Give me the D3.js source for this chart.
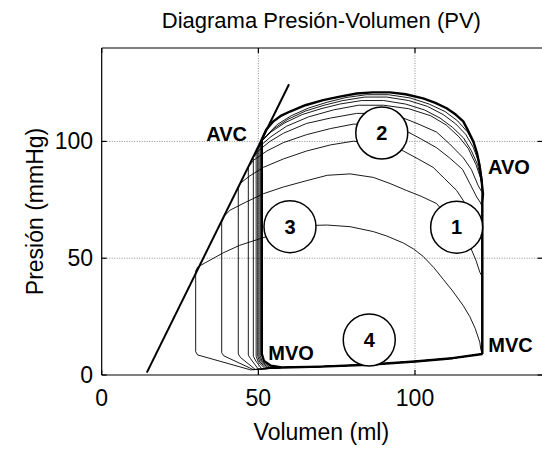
<!DOCTYPE html>
<html>
<head>
<meta charset="utf-8">
<script src="https://cdn.jsdelivr.net/npm/d3@7"></script>
<style>
  html, body { margin: 0; padding: 0; background: #fff; }
  svg { display: block; }
  text { font-family: "Liberation Sans", Arial, sans-serif; fill: #000; }
</style>
</head>
<body>
<svg id="chart" width="542" height="449"></svg>
<script>
// ---------------- DATA (volume ml, pressure mmHg) ----------------
const titleText = "Diagrama Presión-Volumen (PV)";
const xLabelText = "Volumen (ml)";
const yLabelText = "Presión (mmHg)";
const xTicks = [0, 50, 100];
const yTicks = [0, 50, 100];
const xDomain = [0, 140];
const yDomain = [0, 140];

// End-systolic pressure-volume relation (straight line)
const espvr = [[14.4, 1], [59.8, 124.5]];

// Common end-diastolic point and filling curve (MVO -> MVC)
const edPoint = [121.5, 9];
const fillingCurve = [[57.5, 3.2], [70, 3.6], [85, 4.4], [100, 5.8], [112, 7.2], [121.5, 9]];

// Transient loops (thin), from smallest to largest
const loopA = [[121.5, 9], [121, 11], [120.7, 14], [119.2, 20], [117.5, 25], [115.4, 29.7], [112, 36], [109, 41], [106, 46],
  [102.6, 50.8], [99.5, 54], [96.3, 56.5], [91, 59.5], [86.7, 61.4], [79.3, 63.5], [72, 64.2], [66, 64], [60, 62.5],
  [55, 60.3], [49.5, 57.9], [44, 55.5], [38.8, 52.3], [33, 48], [30.6, 46.2], [30, 44.5], [30, 10], [30.6, 8.6],
  [47.5, 2.2], [56, 3.0]];
const loopB = [[121.5, 9], [121.5, 42], [120.7, 44], [119.5, 49], [117.6, 55], [114, 62], [110, 68.5], [106.9, 73.4],
  [102, 76.5], [97.3, 79], [92, 82], [86.7, 84.6], [79.3, 86.1], [72, 85.5], [65.4, 83.2], [58, 80.5], [51.6, 77.6],
  [46, 74], [41, 70.6], [39.1, 68], [38.3, 65.5], [38.3, 9.5], [39, 8.2], [48.4, 2.3], [56, 3.0]];
const loopC = [[121.5, 9], [121.5, 62], [120.5, 64.5], [118.6, 67.7], [116, 73.5], [113.3, 79], [109.5, 84], [105.8, 88.9],
  [101, 92.5], [96.3, 95.9], [89, 99], [80.3, 100.1], [73, 98.5], [65.4, 95.9], [58, 92.5], [51.6, 88.9], [47, 85],
  [44.2, 82], [43.6, 80], [43.6, 9], [44.3, 7.5], [49, 2.4], [56, 3.0]];
const loopD = [[121.5, 9], [121.5, 72], [120.8, 74], [119.7, 76.2], [117.5, 82], [115.2, 88], [111, 93], [106.9, 97.3],
  [102, 101], [97.3, 104.4], [89, 107.5], [80.3, 107.4], [73, 105.5], [65.4, 102.9], [58, 99.5], [52.7, 95.9],
  [48.5, 92], [46.8, 89], [46.8, 8.5], [47.5, 7], [50, 2.5], [56, 3.0]];
const loopE = [[121.5, 9], [121.5, 78], [120.2, 81], [118, 88], [115.4, 93], [111, 99], [106.9, 104], [101, 107.5],
  [96.3, 110], [89, 112], [81.4, 112], [73, 110], [65.4, 107.7], [58, 103.5], [53.7, 100], [50, 96], [48.4, 93],
  [48.4, 8], [49.2, 6], [51, 2.8], [56, 3.0]];
const loopF = [[121.5, 9], [121.5, 80], [121, 84], [119.5, 90], [117, 97], [114, 102], [110, 107], [105, 111], [98, 114],
  [90, 115.5], [82, 115.5], [74, 113.5], [66, 110.5], [59, 106.5], [54, 102], [50.5, 98], [49.3, 95.5],
  [49.3, 8], [50, 5.5], [52, 3], [56, 3.0]];
const loopG = [[121.5, 9], [121.5, 79], [121.2, 83], [120, 90], [118, 96], [115.5, 101.5], [112, 106], [108, 110],
  [103, 113.5], [97, 116], [90, 117.5], [83, 117.5], [76, 116], [70, 114], [64, 111.5], [58.5, 108], [54, 104],
  [51, 100], [49.8, 97], [49.8, 8], [50.5, 5.5], [52.5, 3.2], [56, 3.0]];
const loopH = [[121.5, 9], [121.5, 78], [121.4, 83], [120.4, 91], [118.6, 97.5], [116.2, 103], [113, 107.5], [109, 111.5],
  [104, 115], [98, 117.5], [91, 119], [84, 119], [77, 117.5], [71, 115.5], [65, 113], [59.5, 109.5], [55, 105.5],
  [51.6, 101], [50.2, 98], [50.2, 8], [51, 5.5], [53, 3.3], [56, 3.1]];
const loopI = [[121.5, 9], [121.5, 77], [121.5, 83], [120.6, 91], [119, 98.5], [116.8, 104], [113.6, 108.8], [109.6, 112.8],
  [104.5, 116], [98.5, 118.6], [91.5, 120], [84.5, 120], [78, 118.8], [72, 116.8], [66, 114.3], [60.5, 111],
  [56, 107.2], [52.6, 102.5], [50.6, 99.5], [50.6, 8.2], [51.3, 5.6], [53.5, 3.4], [56, 3.1]];
// Steady-state loop (thick)
const mainLoop = [[121.5, 9], [121.5, 74], [121.7, 77.6], [121.2, 84], [120.7, 88.9], [119.8, 95], [118.6, 100.1],
  [117, 104.5], [115.4, 108.6], [113, 111.5], [110.1, 114.2], [106.5, 116.5], [102.6, 118.4], [97, 120.2], [92, 121],
  [86.5, 121], [81.4, 120.5], [76, 119.2], [70.7, 117.7], [65, 115.5], [60.1, 112.8], [57, 110.8], [54.8, 108.6],
  [52.5, 105], [51.1, 100.8], [51.1, 9], [51.8, 6], [54, 4], [57.5, 3.2]];

const thinLoops = [loopA, loopB, loopC, loopD, loopE, loopF, loopG, loopH, loopI];

// Phase markers
const circleLabels = ["1", "2", "3", "4"];
const circleCenters = [[113.3, 63.3], [89.4, 103.6], [60.1, 63.5], [85.4, 15]];
const valveLabels = ["AVC", "AVO", "MVO", "MVC"];
const valvePositions = [[46.4, 100.1], [123.3, 86.1], [53.2, 6.5], [123.4, 10]];
const valveAnchors = ["end", "start", "start", "start"];

// ---------------- DRAWING ----------------
const svg = d3.select("#chart");
const W = 542, H = 449;
const plot = { left: 101.7, right: 540.3, top: 48, bottom: 375 };

const x = d3.scaleLinear().domain(xDomain).range([plot.left, plot.right]);
const y = d3.scaleLinear().domain(yDomain).range([plot.bottom, plot.top]);

svg.append("rect").attr("width", W).attr("height", H).attr("fill", "#fff");

// grid
const grid = svg.append("g");
xTicks.filter(d => d > xDomain[0]).forEach(d => {
  grid.append("line").attr("x1", x(d)).attr("x2", x(d)).attr("y1", plot.top).attr("y2", plot.bottom)
    .attr("stroke", "#8c8c8c").attr("stroke-width", 1).attr("stroke-dasharray", "1,1.5");
});
yTicks.filter(d => d > yDomain[0]).forEach(d => {
  grid.append("line").attr("x1", plot.left).attr("x2", W + 2).attr("y1", y(d)).attr("y2", y(d))
    .attr("stroke", "#8c8c8c").attr("stroke-width", 1).attr("stroke-dasharray", "1,1.5");
});

const line = d3.line().x(d => x(d[0])).y(d => y(d[1])).curve(d3.curveLinear);

const loopsG = svg.append("g");
thinLoops.forEach(lp => {
  loopsG.append("path").attr("d", line(lp.concat(fillingCurve)))
    .attr("fill", "none").attr("stroke", "#000").attr("stroke-width", 0.9)
    .attr("stroke-linejoin", "round");
});
loopsG.append("path").attr("d", line(mainLoop.concat(fillingCurve)))
  .attr("fill", "none").attr("stroke", "#000").attr("stroke-width", 2.4)
  .attr("stroke-linejoin", "round");

svg.append("path").attr("d", line(espvr))
  .attr("fill", "none").attr("stroke", "#000").attr("stroke-width", 2);

// circles
const cg = svg.append("g");
circleCenters.forEach((c, i) => {
  cg.append("circle").attr("cx", x(c[0])).attr("cy", y(c[1])).attr("r", 26)
    .attr("fill", "#fff").attr("stroke", "#000").attr("stroke-width", 1.5);
  cg.append("text").attr("x", x(c[0])).attr("y", y(c[1]))
    .attr("text-anchor", "middle").attr("dominant-baseline", "central")
    .attr("font-weight", "bold").attr("font-size", 20).text(circleLabels[i]);
});

// valve labels
valveLabels.forEach((t, i) => {
  svg.append("text").attr("x", x(valvePositions[i][0])).attr("y", y(valvePositions[i][1]))
    .attr("text-anchor", valveAnchors[i]).attr("font-weight", "bold").attr("font-size", 20).text(t);
});

// frame
const frame = svg.append("g").attr("stroke", "#000").attr("stroke-width", 1.2);
frame.append("line").attr("x1", plot.left).attr("x2", W + 2).attr("y1", plot.bottom).attr("y2", plot.bottom);
frame.append("line").attr("x1", plot.left).attr("x2", W + 2).attr("y1", plot.top).attr("y2", plot.top);
frame.append("line").attr("x1", plot.left).attr("x2", plot.left).attr("y1", plot.top).attr("y2", plot.bottom);

// ticks (inward)
const tl = 5;
const tg = svg.append("g").attr("stroke", "#000").attr("stroke-width", 1.2);
xTicks.forEach(d => {
  tg.append("line").attr("x1", x(d)).attr("x2", x(d)).attr("y1", plot.bottom).attr("y2", plot.bottom - tl);
  tg.append("line").attr("x1", x(d)).attr("x2", x(d)).attr("y1", plot.top).attr("y2", plot.top + tl);
});
yTicks.forEach(d => {
  tg.append("line").attr("x1", plot.left).attr("x2", plot.left + tl).attr("y1", y(d)).attr("y2", y(d));
  tg.append("line").attr("x1", W - tl + 0.5).attr("x2", W + 2).attr("y1", y(d)).attr("y2", y(d));
});

// tick labels
xTicks.forEach(d => {
  svg.append("text").attr("x", x(d)).attr("y", 406).attr("text-anchor", "middle")
    .attr("font-size", 23).text(d);
});
yTicks.forEach(d => {
  svg.append("text").attr("x", 93).attr("y", y(d)).attr("text-anchor", "end")
    .attr("dominant-baseline", "central").attr("font-size", 23).text(d);
});

// title and axis labels
const cx = (plot.left + 541) / 2;
svg.append("text").attr("x", cx).attr("y", 28).attr("text-anchor", "middle")
  .attr("font-size", 22).text(titleText);
svg.append("text").attr("x", cx).attr("y", 440).attr("text-anchor", "middle")
  .attr("font-size", 23).text(xLabelText);
svg.append("text").attr("transform", `translate(43,${(plot.top + plot.bottom) / 2}) rotate(-90)`)
  .attr("text-anchor", "middle").attr("font-size", 23).text(yLabelText);
</script>
</body>
</html>
